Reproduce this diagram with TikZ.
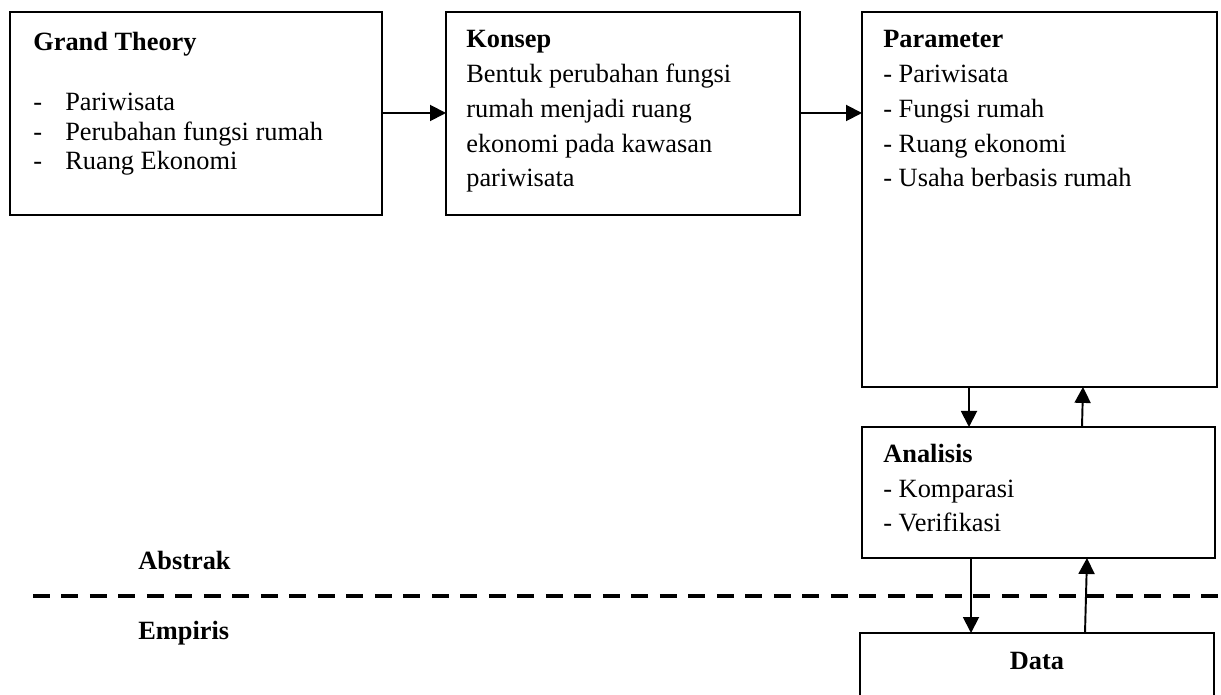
\documentclass[tikz,border=0pt]{standalone}
\usepackage{fontspec}
\setmainfont{Liberation Serif}
\usetikzlibrary{calc,arrows.meta}

\tikzset{
  box/.style={draw,line width=1pt,inner sep=0pt,outer sep=0pt,anchor=north west},
  txt/.style={anchor=base west,align=left,inner sep=0pt,font=\fontsize{15pt}{19.9pt}\selectfont},
  arr/.style={-{Triangle[length=0.32cm,width=0.32cm]},line width=1.1pt},
  dashline/.style={line width=2.3pt,dash pattern=on 0.34cm off 0.23cm}
}

\begin{document}
\begin{tikzpicture}[x=0.02cm,y=-0.02cm]
\useasboundingbox (0,0) rectangle (1221,695);
\node[box,minimum width=7.44cm,minimum height=4.06cm](grand)at(10,12){};
\node[box,minimum width=7.08cm,minimum height=4.06cm](konsep)at(446,12){};
\node[box,minimum width=7.10cm,minimum height=7.50cm](param)at(862,12){};
\node[box,minimum width=7.06cm,minimum height=2.62cm](ana)at(862,427){};
\node[box,minimum width=7.08cm,minimum height=1.60cm](data)at(860,633){};
% base of a multi-line text is its last line
\node[txt,font=\fontsize{15pt}{17.07pt}\selectfont](grandtxt)at(33,170){\textbf{Grand Theory}\\ \\
  \makebox[0.64cm][l]{-}Pariwisata\\
  \makebox[0.64cm][l]{-}Perubahan fungsi rumah\\
  \makebox[0.64cm][l]{-}Ruang Ekonomi};
\node[txt](konseptxt)at(466,187){\textbf{Konsep}\\Bentuk perubahan fungsi\\rumah menjadi ruang\\ekonomi pada kawasan\\pariwisata};
\node[txt](paramtxt)at(883,187){\textbf{Parameter}\\- Pariwisata\\- Fungsi rumah\\- Ruang ekonomi\\- Usaha berbasis rumah};
\node[txt](anatxt)at(883,532){\textbf{Analisis}\\- Komparasi\\- Verifikasi};
\node[txt,anchor=base](datatxt)at($(data.north)+(0,37)$){\textbf{Data}};
\node[txt](abstrak)at(138,570){\textbf{Abstrak}};
\node[txt](empiris)at(138,640){\textbf{Empiris}};
\draw[dashline](33,596)--(1221,596);
\draw[arr]($(grand.north east)+(0,101)$)--($(konsep.north west)+(0,101)$);
\draw[arr]($(konsep.north east)+(0,101)$)--($(param.north west)+(0,101)$);
\draw[arr]($(param.south west)+(107,0)$)--($(ana.north west)+(107,0)$);
\draw[arr]($(ana.north west)+(220,0)$)--($(param.south west)+(221,0)$);
\draw[arr]($(ana.south west)+(109,0)$)--($(data.north west)+(111,0)$);
\draw[arr]($(data.north west)+(225,0)$)--($(ana.south west)+(225,0)$);
\end{tikzpicture}
\end{document}
